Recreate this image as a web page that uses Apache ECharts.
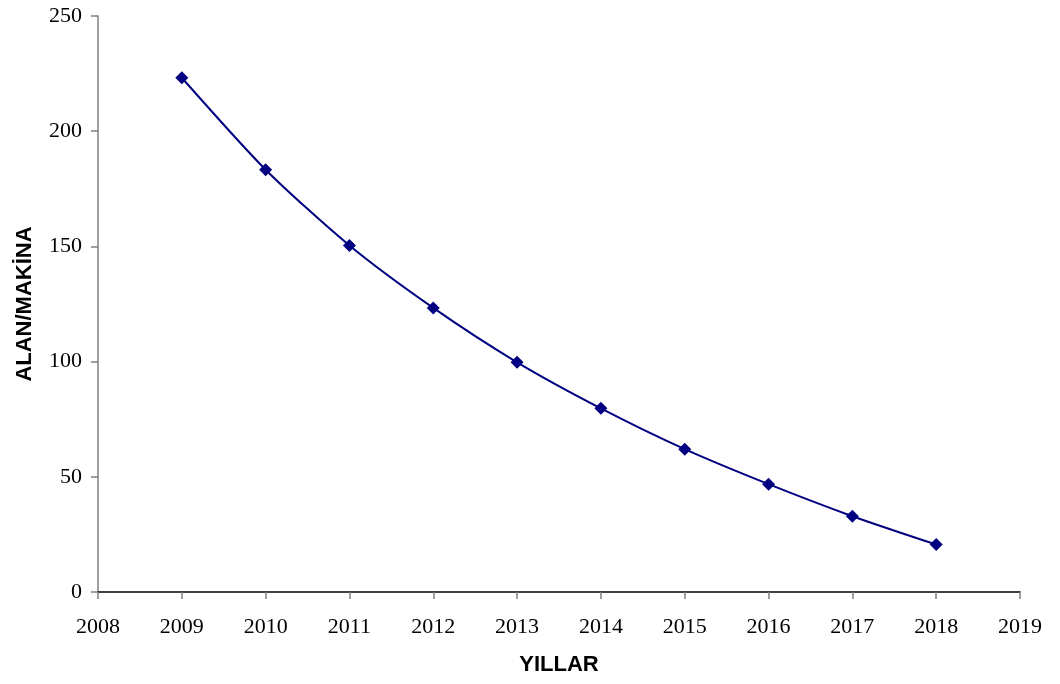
<!DOCTYPE html>
<html>
<head>
<meta charset="utf-8">
<script src="https://cdn.jsdelivr.net/npm/echarts@6/dist/echarts.min.js"></script>
<style>
  html, body { margin: 0; padding: 0; background: #fff; }
  #chart { width: 1060px; height: 684px; }
</style>
</head>
<body>
<div id="chart"></div>
<script>
// Years and area-per-machine values
const years = [2009, 2010, 2011, 2012, 2013, 2014, 2015, 2016, 2017, 2018];
const values = [223.2, 183.3, 150.4, 123.3, 99.7, 79.7, 62.0, 46.8, 32.9, 20.6];
const xName = 'YILLAR';
const yName = 'ALAN/MAKİNA';

const seriesData = years.map((y, i) => [y, values[i]]);

const chart = echarts.init(document.getElementById('chart'), null, { renderer: 'canvas' });
chart.setOption({
  animation: false,
  backgroundColor: '#ffffff',
  grid: { left: 98, right: 40, top: 16, bottom: 92, containLabel: false },
  xAxis: {
    type: 'value',
    min: 2008,
    max: 2019,
    interval: 1,
    name: xName,
    nameLocation: 'middle',
    nameGap: 62,
    nameTextStyle: { fontFamily: 'Liberation Sans', fontWeight: 'bold', fontSize: 22, color: '#000' },
    axisLine: { show: true, onZero: false, lineStyle: { color: '#000', width: 1.5 } },
    axisTick: { show: true, length: 7, lineStyle: { color: '#808080', width: 1.5 } },
    axisLabel: { margin: 24, fontFamily: 'Liberation Serif', fontSize: 22, color: '#000', formatter: v => String(v) },
    splitLine: { show: false }
  },
  yAxis: {
    type: 'value',
    min: 0,
    max: 250,
    interval: 50,
    name: yName,
    nameLocation: 'middle',
    nameGap: 62,
    nameTextStyle: { fontFamily: 'Liberation Sans', fontWeight: 'bold', fontSize: 22, color: '#000' },
    axisLine: { show: true, lineStyle: { color: '#808080', width: 1.5 } },
    axisTick: { show: true, length: 7, lineStyle: { color: '#808080', width: 1.5 } },
    axisLabel: { margin: 16, fontFamily: 'Liberation Serif', fontSize: 22, color: '#000' },
    splitLine: { show: false }
  },
  series: [{
    type: 'line',
    data: seriesData,
    smooth: 0.25,
    symbol: 'diamond',
    symbolSize: 13,
    lineStyle: { color: '#000080', width: 2 },
    itemStyle: { color: '#000080' }
  }]
});
</script>
</body>
</html>
